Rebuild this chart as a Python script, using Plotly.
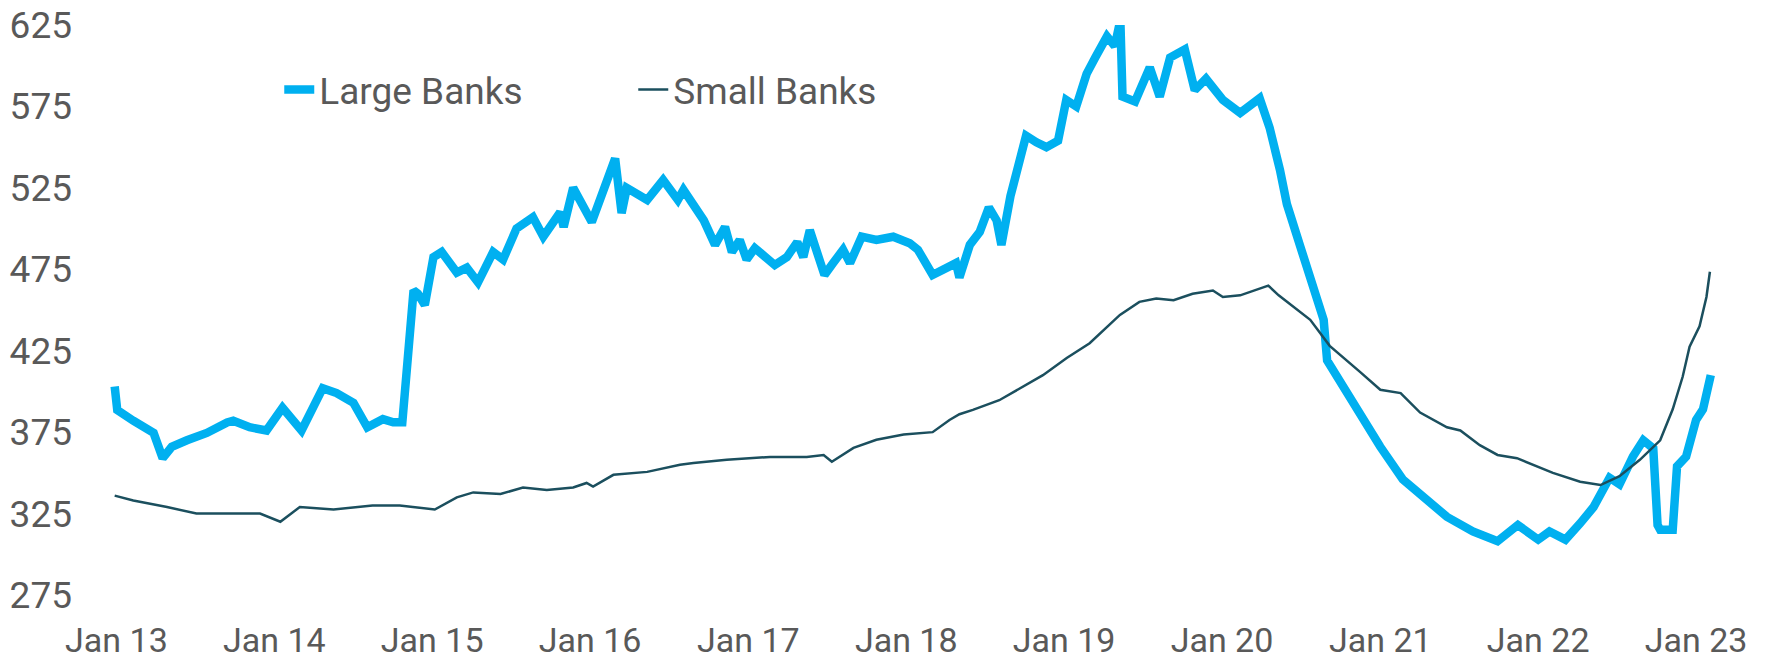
import plotly.graph_objects as go

large_dates = [
    "2012-12-28", "2013-01-03", "2013-02-09", "2013-03-28", "2013-04-18", "2013-05-09",
    "2013-06-13", "2013-07-29", "2013-09-14", "2013-09-28", "2013-11-05", "2013-12-14",
    "2014-01-20", "2014-03-05", "2014-04-23", "2014-05-25", "2014-07-03", "2014-08-04",
    "2014-09-09", "2014-10-03", "2014-10-24", "2014-11-03", "2014-11-19", "2014-11-29",
    "2014-12-15", "2015-01-04", "2015-01-23", "2015-02-27", "2015-03-22", "2015-04-17",
    "2015-05-22", "2015-06-14", "2015-07-15", "2015-08-22", "2015-09-15", "2015-10-24",
    "2015-11-01", "2015-11-23", "2016-01-05", "2016-02-28", "2016-03-14", "2016-03-26",
    "2016-05-12", "2016-06-18", "2016-07-22", "2016-08-04", "2016-09-20", "2016-10-16",
    "2016-11-08", "2016-11-24", "2016-12-12", "2016-12-28", "2017-01-16", "2017-03-03",
    "2017-03-31", "2017-04-24", "2017-05-08", "2017-05-23", "2017-06-08", "2017-06-26",
    "2017-07-16", "2017-08-08", "2017-08-24", "2017-09-20", "2017-10-24", "2017-12-02",
    "2018-01-09", "2018-01-28", "2018-03-03", "2018-03-26", "2018-04-26", "2018-05-04",
    "2018-05-28", "2018-06-20", "2018-07-11", "2018-07-29", "2018-08-09", "2018-08-30",
    "2018-09-20", "2018-10-05", "2018-10-29", "2018-11-21", "2018-12-18", "2019-01-06",
    "2019-01-29", "2019-02-22", "2019-03-14", "2019-04-10", "2019-04-28", "2019-05-11",
    "2019-05-16", "2019-06-14", "2019-07-18", "2019-08-10", "2019-09-03", "2019-10-07",
    "2019-10-30", "2019-11-25", "2020-01-03", "2020-02-12", "2020-03-28", "2020-04-20",
    "2020-05-14", "2020-05-30", "2020-06-30", "2020-07-31", "2020-08-23", "2020-08-31",
    "2020-10-07", "2020-11-15", "2021-01-01", "2021-02-22", "2021-04-18", "2021-06-04",
    "2021-08-03", "2021-09-29", "2021-11-15", "2022-01-01", "2022-01-27", "2022-03-05",
    "2022-04-08", "2022-05-09", "2022-06-15", "2022-07-08", "2022-08-08", "2022-09-01",
    "2022-09-24", "2022-10-04", "2022-10-10", "2022-11-08", "2022-11-18", "2022-12-09",
    "2023-01-01", "2023-01-17", "2023-02-04",
]
large_values = [
    403, 388.5, 382, 374.5, 359, 366,
    370, 374.5, 381, 382, 378, 376,
    390, 376, 402, 399, 393, 378,
    383, 381, 381, 409, 462, 460,
    453, 482.5, 485.6, 473, 476, 467,
    485.6, 481, 500, 507, 495, 510,
    501, 525, 504, 543, 509.5, 525,
    517.6, 529.8, 517.6, 523.8, 505, 490,
    501, 485.6, 493, 481, 488, 477.6,
    482.5, 491.7, 482.5, 499, 485.6, 471.5,
    478.8, 487, 478.8, 495, 493, 495,
    491, 487, 471.5, 474.6, 478.8, 470,
    490, 498, 513, 505, 490, 520,
    540, 557, 553, 550, 554, 579,
    575, 595, 605, 618, 612, 628,
    581, 578, 599, 581, 605, 610,
    585, 592, 579, 571, 580, 562,
    536, 515, 489, 464, 444, 419,
    403, 387, 366, 346, 333, 323,
    314, 308, 318, 309, 314, 309,
    319, 329, 347, 343, 360, 370,
    365, 318, 315, 315, 354, 360,
    382.5, 389, 410,
]

small_dates = [
    "2012-12-28", "2013-02-09", "2013-04-28", "2013-07-05", "2013-09-27", "2013-11-29",
    "2014-01-15", "2014-03-01", "2014-05-18", "2014-07-03", "2014-08-16", "2014-10-18",
    "2014-11-19", "2015-01-07", "2015-02-27", "2015-04-06", "2015-06-08", "2015-07-30",
    "2015-09-23", "2015-11-23", "2015-12-24", "2016-01-08", "2016-02-24", "2016-05-12",
    "2016-07-27", "2016-08-27", "2016-11-12", "2017-02-20", "2017-05-16", "2017-06-24",
    "2017-07-13", "2017-09-01", "2017-10-24", "2017-12-26", "2018-03-03", "2018-04-11",
    "2018-05-04", "2018-06-04", "2018-08-04", "2018-11-13", "2019-01-07", "2019-03-01",
    "2019-05-10", "2019-06-24", "2019-08-02", "2019-09-11", "2019-10-25", "2019-12-11",
    "2020-01-03", "2020-02-12", "2020-04-17", "2020-05-11", "2020-07-23", "2020-09-06",
    "2020-11-15", "2021-01-01", "2021-02-17", "2021-04-03", "2021-06-04", "2021-07-05",
    "2021-08-19", "2021-09-29", "2021-11-13", "2021-12-19", "2022-02-04", "2022-04-08",
    "2022-05-25", "2022-07-08", "2022-08-24", "2022-10-10", "2022-11-08", "2022-12-01",
    "2022-12-17", "2023-01-09", "2023-01-25", "2023-02-02",
]
small_values = [
    336, 333, 329, 325, 325, 325,
    320, 329, 327.5, 329, 330, 330,
    329, 327.5, 335, 338, 337, 341,
    339.5, 341, 343.8, 341.6, 348.8, 350.6,
    355, 356, 358, 359.8, 359.8, 361,
    356.8, 365.3, 370.3, 373.5, 375, 382.5,
    386, 388.7, 394.6, 410, 420.5, 429.6,
    447, 455, 457, 456, 460, 462,
    458, 459, 465, 459, 444, 428,
    412, 401, 399, 387, 378, 376,
    367, 361, 359, 355, 350, 344.5,
    342.5, 348, 358, 370, 389, 409,
    427.5, 440, 458, 473.5,
]

y_ticks = [275, 325, 375, 425, 475, 525, 575, 625]

font_family = "Roboto, 'Open Sans', sans-serif"
text_color = "#595959"

fig = go.Figure()
fig.add_trace(go.Scatter(
    x=large_dates, y=large_values, mode="lines", name="Large Banks",
    line=dict(color="#00B0F0", width=8.5),
))
fig.add_trace(go.Scatter(
    x=small_dates, y=small_values, mode="lines", name="Small Banks",
    line=dict(color="#1B4F5E", width=2.5),
))

fig.update_layout(
    width=1771, height=665,
    template="none",
    paper_bgcolor="white", plot_bgcolor="white",
    margin=dict(l=103, r=36, t=25, b=70, autoexpand=False),
    font=dict(family=font_family, size=37, color=text_color),
    showlegend=True,
    legend=dict(
        orientation="h", x=0.108, y=0.886, xanchor="left", yanchor="middle",
        bgcolor="rgba(0,0,0,0)", font=dict(size=37, color=text_color),
        entrywidth=309, entrywidthmode="pixels", itemsizing="trace",
    ),
)
fig.update_xaxes(
    type="date",
    range=["2012-12-01", "2023-04-01"],
    tick0="2013-01-01", dtick="M12", tickformat="%b %y",
    showgrid=False, zeroline=False, showline=False, ticks="",
    ticklabelstandoff=22, automargin=False,
    tickfont=dict(size=34, color=text_color),
)
fig.update_yaxes(
    range=[275, 625], tickvals=y_ticks,
    showgrid=False, zeroline=False, showline=False, ticks="",
    ticklabelstandoff=30, automargin=False,
    tickfont=dict(size=37, color=text_color),
)

fig.write_html("out.html")
